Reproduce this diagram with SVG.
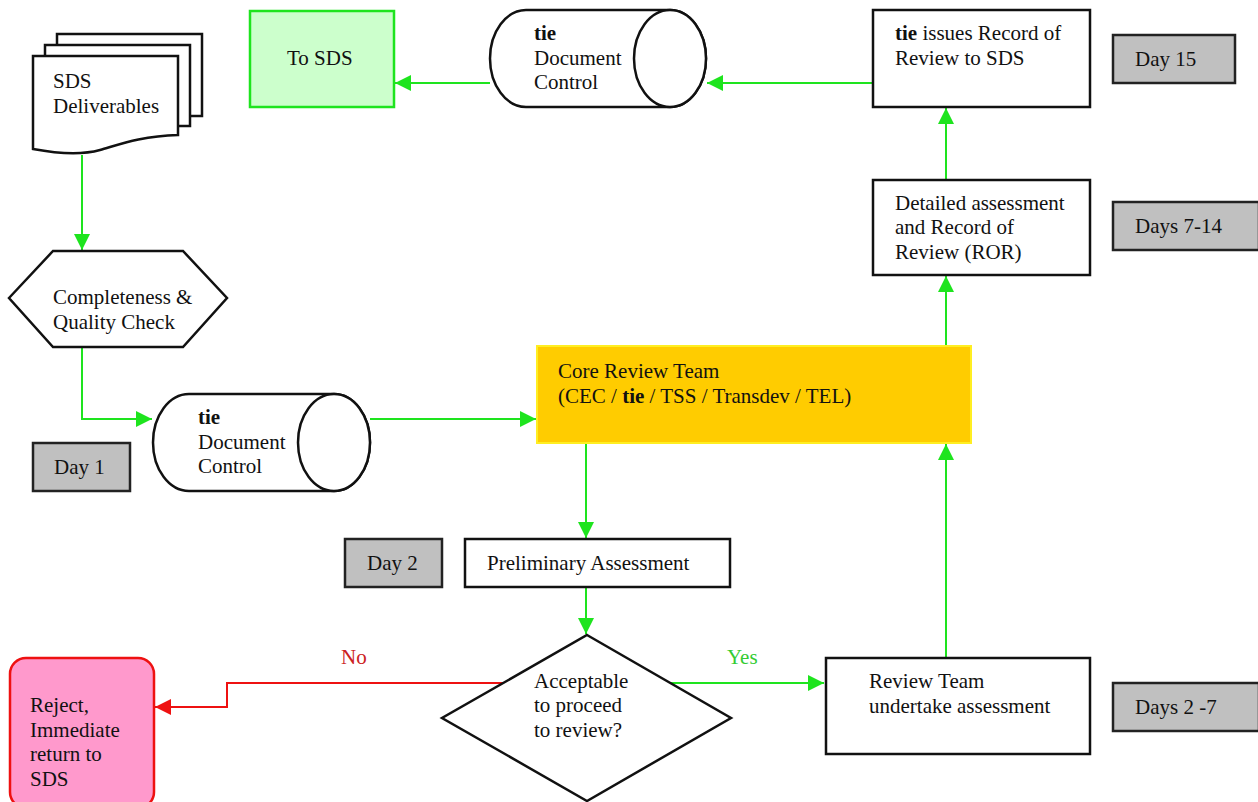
<svg xmlns="http://www.w3.org/2000/svg" width="1258" height="802" viewBox="0 0 1258 802">
<style>
text{font-family:"Liberation Serif","Times New Roman",serif;font-size:21px;fill:#111}
.b{font-weight:bold}
.box{fill:#fff;stroke:#111;stroke-width:2.5}
.day{fill:#c0c0c0;stroke:#222;stroke-width:2.5}
.con{fill:none;stroke:#1ee41e;stroke-width:2}
.red{fill:none;stroke:#ee1111;stroke-width:2}
</style>
<defs>
<marker id="ag" markerUnits="userSpaceOnUse" markerWidth="17" markerHeight="16" refX="16" refY="8" orient="auto"><path d="M0,0 L16,8 L0,16 Z" fill="#1ee41e"/></marker>
<marker id="ar" markerUnits="userSpaceOnUse" markerWidth="17" markerHeight="16" refX="16" refY="8" orient="auto"><path d="M0,0 L16,8 L0,16 Z" fill="#ee1111"/></marker>
</defs>
<rect width="1258" height="802" fill="#fff"/>
<g id="connectors">
<path class="con" d="M82,155 V250" marker-end="url(#ag)"/>
<path class="con" d="M82,347 V419 H152" marker-end="url(#ag)"/>
<path class="con" d="M370,419 H536" marker-end="url(#ag)"/>
<path class="con" d="M586,443 V538" marker-end="url(#ag)"/>
<path class="con" d="M586,587 V634" marker-end="url(#ag)"/>
<path class="red" d="M503,683 H227 V707 H155" marker-end="url(#ar)"/>
<path class="con" d="M670,683 H824" marker-end="url(#ag)"/>
<path class="con" d="M946,658 V444" marker-end="url(#ag)"/>
<path class="con" d="M946,346 V276" marker-end="url(#ag)"/>
<path class="con" d="M946,180 V108" marker-end="url(#ag)"/>
<path class="con" d="M873,83 H707" marker-end="url(#ag)"/>
<path class="con" d="M490,83 H395" marker-end="url(#ag)"/>
<text x="341" y="664" style="fill:#cc2222">No</text>
<text x="727" y="664" style="fill:#33cc33">Yes</text>
</g>
<g id="sds-deliverables">
<rect x="57" y="34" width="145" height="82" class="box"/>
<rect x="45" y="45" width="145" height="81" class="box"/>
<path class="box" d="M33,56 H178 V135 C140,136 118,145 100,150 C82,155 60,154 33,149 Z"/>
<text x="53" y="88">SDS</text>
<text x="53" y="113">Deliverables</text>
</g>
<g id="to-sds">
<rect x="250" y="11" width="144" height="96" style="fill:#ccffcc;stroke:#1ee41e;stroke-width:2.5"/>
<text x="287" y="65">To SDS</text>
</g>
<g id="doc-control-top">
<path class="box" d="M526,10 H670 A36,48.5 0 0 1 670,107 H526 A36,48.5 0 0 1 526,10 Z"/>
<ellipse cx="670" cy="58.5" rx="36" ry="48.5" class="box"/>
<text x="534" y="40" class="b">tie</text>
<text x="534" y="65">Document</text>
<text x="534" y="89">Control</text>
</g>
<g id="tie-issues">
<rect x="873" y="10" width="217" height="97" class="box"/>
<text x="895" y="40"><tspan class="b">tie</tspan> issues Record of</text>
<text x="895" y="65">Review to SDS</text>
</g>
<g id="day15">
<rect x="1113" y="35" width="122" height="48" class="day"/>
<text x="1135" y="66">Day 15</text>
</g>
<g id="detailed">
<rect x="873" y="180" width="217" height="95" class="box"/>
<text x="895" y="210">Detailed assessment</text>
<text x="895" y="234">and Record of</text>
<text x="895" y="259">Review (ROR)</text>
</g>
<g id="days7-14">
<rect x="1113" y="202" width="146" height="48" class="day"/>
<text x="1135" y="233">Days 7-14</text>
</g>
<g id="completeness">
<polygon class="box" points="9,298 53,251 183,251 227,298 183,347 53,347"/>
<text x="53" y="304">Completeness &amp;</text>
<text x="53" y="329">Quality Check</text>
</g>
<g id="doc-control-left">
<path class="box" d="M189,394 H334 A36,48.5 0 0 1 334,491 H189 A36,48.5 0 0 1 189,394 Z"/>
<ellipse cx="334" cy="442.5" rx="36" ry="48.5" class="box"/>
<text x="198" y="424" class="b">tie</text>
<text x="198" y="449">Document</text>
<text x="198" y="473">Control</text>
</g>
<g id="day1">
<rect x="33" y="443" width="97" height="48" class="day"/>
<text x="54" y="474">Day 1</text>
</g>
<g id="core-review">
<rect x="537" y="346" width="434" height="97" style="fill:#ffcc00;stroke:#ffee22;stroke-width:2"/>
<text x="558" y="378">Core Review Team</text>
<text x="558" y="403">(CEC / <tspan class="b">tie</tspan> / TSS / Transdev / TEL)</text>
</g>
<g id="day2">
<rect x="345" y="539" width="97" height="48" class="day"/>
<text x="367" y="570">Day 2</text>
</g>
<g id="preliminary">
<rect x="465" y="539" width="265" height="48" class="box"/>
<text x="487" y="570">Preliminary Assessment</text>
</g>
<g id="acceptable">
<polygon class="box" points="587,635 731,718 587,801 442,718"/>
<text x="534" y="688">Acceptable</text>
<text x="534" y="712">to proceed</text>
<text x="534" y="737">to review?</text>
</g>
<g id="reject">
<rect x="10" y="658" width="144" height="150" rx="16" style="fill:#ff99cc;stroke:#ee1111;stroke-width:2.5"/>
<text x="30" y="712">Reject,</text>
<text x="30" y="737">Immediate</text>
<text x="30" y="761">return to</text>
<text x="30" y="786">SDS</text>
</g>
<g id="review-team">
<rect x="826" y="658" width="264" height="96" class="box"/>
<text x="869" y="688">Review Team</text>
<text x="869" y="713">undertake assessment</text>
</g>
<g id="days2-7">
<rect x="1113" y="683" width="146" height="48" class="day"/>
<text x="1135" y="714">Days 2 -7</text>
</g>
</svg>
